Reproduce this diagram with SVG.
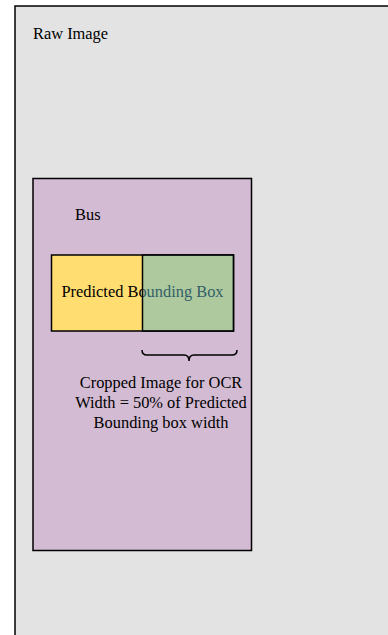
<svg xmlns="http://www.w3.org/2000/svg" width="388" height="635" viewBox="0 0 388 635">
<style>
.t{font-family:"Liberation Serif","Times New Roman",serif;font-size:16.4px;fill:#000}
.box{stroke:#000;stroke-width:1.5}
</style>
<rect width="388" height="635" fill="#ffffff"/>
<g id="raw-image">
<rect class="box" x="15" y="6" width="400" height="660" fill="#e3e3e3"/>
<text class="t" x="33" y="39">Raw Image</text>
</g>
<g id="bus">
<rect class="box" x="33" y="178.5" width="218.5" height="372" fill="#d3bbd3"/>
<text class="t" x="75" y="220">Bus</text>
</g>
<g id="predicted-box">
<rect class="box" x="51.5" y="255" width="182" height="76" fill="#ffdd71"/>
<text class="t" x="142.5" y="297" text-anchor="middle">Predicted Bounding Box</text>
</g>
<g id="cropped-box">
<rect x="142.5" y="255" width="91" height="76" fill="#5fb6cc" fill-opacity="0.5"/>
<rect class="box" x="142.5" y="255" width="91" height="76" fill="none"/>
</g>
<g id="connectors">
<path d="M142,350 Q142,355 147,355 L184,355 Q189,355 189,361 Q189,355 194,355 L232,355 Q237,355 237,350" fill="none" stroke="#000" stroke-width="1.5"/>
</g>
<g id="crop-label">
<text class="t" x="161" y="388" text-anchor="middle">Cropped Image for OCR</text>
<text class="t" x="161" y="408" text-anchor="middle">Width = 50% of Predicted</text>
<text class="t" x="161" y="428" text-anchor="middle">Bounding box width</text>
</g>
</svg>
